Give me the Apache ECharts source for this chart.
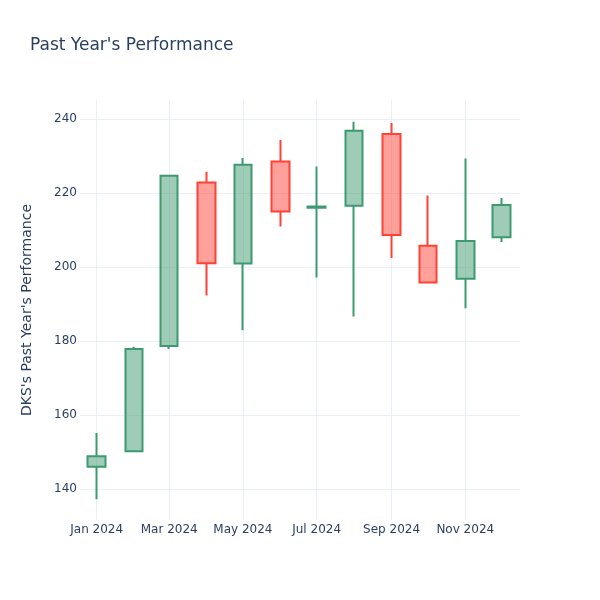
<!DOCTYPE html>
<html>
<head>
<meta charset="utf-8">
<script src="https://cdn.jsdelivr.net/npm/echarts@6/dist/echarts.min.js"></script>
<style>html,body{margin:0;padding:0;background:#fff}#c{width:600px;height:600px}</style>
</head>
<body>
<div id="c"></div>
<script>
// Monthly candles (first day of each month, 2024)
const dates  = ['2024-01-01','2024-02-01','2024-03-01','2024-04-01','2024-05-01','2024-06-01',
                '2024-07-01','2024-08-01','2024-09-01','2024-10-01','2024-11-01','2024-12-01'];
const opens  = [146.0, 150.2, 178.6, 222.8, 200.9, 228.5, 216.0, 216.5, 235.9, 205.7, 196.8, 208.0];
const closes = [148.8, 177.8, 224.6, 201.0, 227.6, 215.0, 216.3, 236.8, 208.6, 195.8, 207.0, 216.7];
const lows   = [137.2, 149.9, 177.8, 192.3, 182.9, 210.9, 197.1, 186.6, 202.4, 195.8, 188.8, 206.7];
const highs  = [155.1, 178.4, 224.9, 225.7, 229.4, 234.3, 227.1, 239.2, 238.9, 219.3, 229.3, 218.6];
const monthNames = ['Jan','Feb','Mar','Apr','May','Jun','Jul','Aug','Sep','Oct','Nov','Dec'];

function ts(s){ const p = s.split('-').map(Number); return new Date(p[0], p[1]-1, p[2]).getTime(); }
const data = dates.map((d,i)=>[ts(d), opens[i], closes[i], lows[i], highs[i]]);

const txt = '#2a3f5f';
const font = 'DejaVu Sans';
const chart = echarts.init(document.getElementById('c'), null, {renderer:'canvas'});
chart.setOption({
  backgroundColor: '#fff',
  animation: false,
  title: {
    text: "Past Year's Performance",
    left: 30, top: 37, padding: 0,
    textStyle: {color: txt, fontSize: 17, fontWeight: 'normal', fontFamily: font}
  },
  grid: {left: 80, right: 80, top: 100, bottom: 80, containLabel: false},
  xAxis: {
    type: 'time',
    min: new Date(2023, 11, 18, 5).getTime(),
    max: new Date(2024, 11, 16, 7).getTime(),
    splitNumber: 6,
    axisLine: {show: false},
    axisTick: {show: false},
    axisLabel: {
      color: txt, fontSize: 12, fontFamily: font, margin: 4,
      showMinLabel: false, showMaxLabel: false,
      formatter: function (v) { const d = new Date(v); return monthNames[d.getMonth()] + ' ' + d.getFullYear(); }
    },
    splitLine: {show: true, showMinLine: false, showMaxLine: false, lineStyle: {color: '#EBF0F8', width: 1}}
  },
  yAxis: {
    type: 'value',
    min: 131.6, max: 245.1,
    name: "DKS's Past Year's Performance",
    nameLocation: 'middle', nameGap: 46,
    nameTextStyle: {color: txt, fontSize: 14, fontFamily: font},
    axisLine: {show: false},
    axisTick: {show: false},
    axisLabel: {color: txt, fontSize: 12, fontFamily: font, margin: 3, showMinLabel: false, showMaxLabel: false},
    splitLine: {show: true, showMinLine: false, showMaxLine: false, lineStyle: {color: '#EBF0F8', width: 1}}
  },
  series: [{
    type: 'candlestick',
    data: data,
    barWidth: 18,
    itemStyle: {
      color: 'rgba(61,153,112,0.5)',
      color0: 'rgba(255,65,54,0.5)',
      borderColor: '#3D9970',
      borderColor0: '#FF4136',
      borderColorDoji: '#3D9970',
      borderWidth: 2
    }
  }]
});
</script>
</body>
</html>
